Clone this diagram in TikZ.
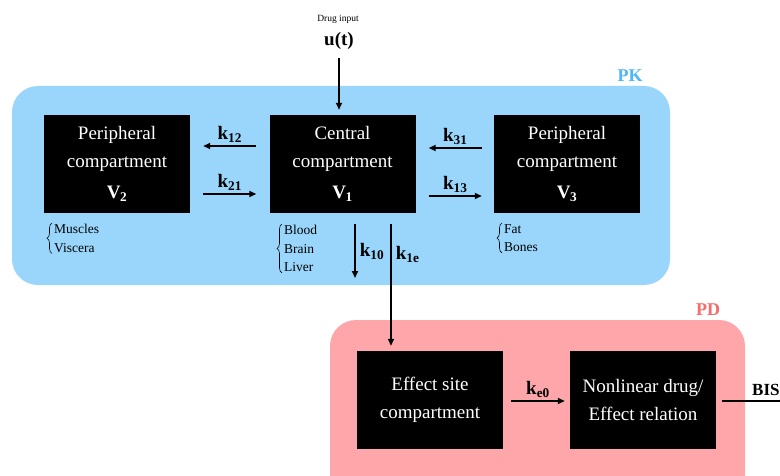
\documentclass[tikz,border=0pt]{standalone}
\usepackage{fontspec}
\setmainfont{Liberation Serif}
\usetikzlibrary{arrows.meta,decorations.pathreplacing}
\definecolor{pkfill}{RGB}{154,214,251}
\definecolor{pdfill}{RGB}{255,166,170}
\definecolor{pktext}{RGB}{77,184,247}
\definecolor{pdtext}{RGB}{245,108,108}
\begin{document}
\begin{tikzpicture}[x=1pt,y=-1pt,
  comp/.style={fill=black,text=white,minimum width=146pt,minimum height=98pt,inner sep=0pt,align=center,font=\rmfamily\fontsize{19}{28}\selectfont},
  arr/.style={line width=1.6pt,-{Triangle[length=7pt,width=6pt]}},
  klab/.style={font=\rmfamily\fontsize{19}{20}\selectfont\bfseries,inner sep=1pt},
  list/.style={font=\rmfamily\fontsize{13.5}{18.5}\selectfont,align=left,inner sep=0pt},
  brc/.style={decorate,decoration={brace,amplitude=5pt},line width=0.6pt}]
\useasboundingbox (0,0) rectangle (780,476);
\fill[white] (0,0) rectangle (780,476);
% group boxes
\fill[pkfill,rounded corners=26pt] (12,86) rectangle (670,285);
\fill[pdfill,rounded corners=26pt] (330,320) rectangle (745,500);
\node[font=\rmfamily\fontsize{18}{20}\selectfont\bfseries,text=pktext] (pk) at (630,76) {PK};
\node[font=\rmfamily\fontsize{18}{20}\selectfont\bfseries,text=pdtext] (pd) at (708,310) {PD};
% compartments
\node[comp] (v2) at (117,164) {Peripheral\\compartment\\[3pt]\textbf{V\kern-0.5pt\textsubscript{2}}};
\node[comp] (v1) at (342.5,164) {Central\\compartment\\[3pt]\textbf{V\kern-0.5pt\textsubscript{1}}};
\node[comp] (v3) at (567,164) {Peripheral\\compartment\\[3pt]\textbf{V\kern-0.5pt\textsubscript{3}}};
\node[comp] (eff) at (430,400) {Effect site\\compartment};
\node[comp] (nl) at (643,400) {Nonlinear drug/\\Effect relation};
% input
\node[font=\rmfamily\fontsize{9.5}{12}\selectfont] (drug) at (338,19) {Drug input};
\node[font=\rmfamily\fontsize{19}{20}\selectfont\bfseries] (u) at (339,41) {u(t)};
\draw[arr] ([yshift=-5pt]u.south) -- ([yshift=5pt]v1.north -| u.south);
% transfers
\draw[arr] ([xshift=-13pt,yshift=18pt]v1.west) -- ([xshift=13pt,yshift=18pt]v2.east) node[klab,midway,above=2pt] (k12) {k\textsubscript{12}};
\draw[arr] ([xshift=13pt,yshift=-30pt]v2.east) -- ([xshift=-13pt,yshift=-30pt]v1.west) node[klab,midway,above=2pt] (k21) {k\textsubscript{21}};
\draw[arr] ([xshift=-12pt,yshift=16pt]v3.west) -- ([xshift=13pt,yshift=16pt]v1.east) node[klab,midway,above=2pt] (k31) {k\textsubscript{31}};
\draw[arr] ([xshift=13pt,yshift=-32pt]v1.east) -- ([xshift=-12pt,yshift=-32pt]v3.west) node[klab,midway,above=2pt] (k13) {k\textsubscript{13}};
\coordinate (elim) at (355,278);
\draw[arr] ([xshift=12.5pt,yshift=-11pt]v1.south) -- (elim) node[klab,midway,right=3pt] (k10) {k\textsubscript{10}};
\draw[arr] ([xshift=48.5pt,yshift=-11pt]v1.south) -- ([xshift=-39pt,yshift=5pt]eff.north) node[klab,pos=0.25,right=3pt] (k1e) {k\textsubscript{1e}};
\draw[arr] ([xshift=8pt,yshift=-1pt]eff.east) -- ([xshift=-5pt,yshift=-1pt]nl.west) node[klab,midway,above=2pt] (ke0) {k\textsubscript{e0}};
\coordinate (out) at (800,401);
\draw[line width=1.6pt] ([xshift=6pt,yshift=-1pt]nl.east) -- (out);
\node[klab,font=\rmfamily\fontsize{17}{18}\selectfont\bfseries,anchor=south west] (bis) at (751,397) {BIS};
% tissue lists
\node[list,anchor=north west] (l2) at (54,224) {Muscles\\Viscera};
\node[list,anchor=north west] (l1) at (284,225) {Blood\\Brain\\Liver};
\node[list,anchor=north west] (l3) at (504,224) {Fat\\Bones};
\draw[brc] ([xshift=-2pt,yshift=-1pt]l2.south west) -- ([xshift=-2pt,yshift=1pt]l2.north west);
\draw[brc] ([xshift=-2pt,yshift=-1pt]l1.south west) -- ([xshift=-2pt,yshift=1pt]l1.north west);
\draw[brc] ([xshift=-2pt,yshift=-1pt]l3.south west) -- ([xshift=-2pt,yshift=1pt]l3.north west);
\end{tikzpicture}
\end{document}
